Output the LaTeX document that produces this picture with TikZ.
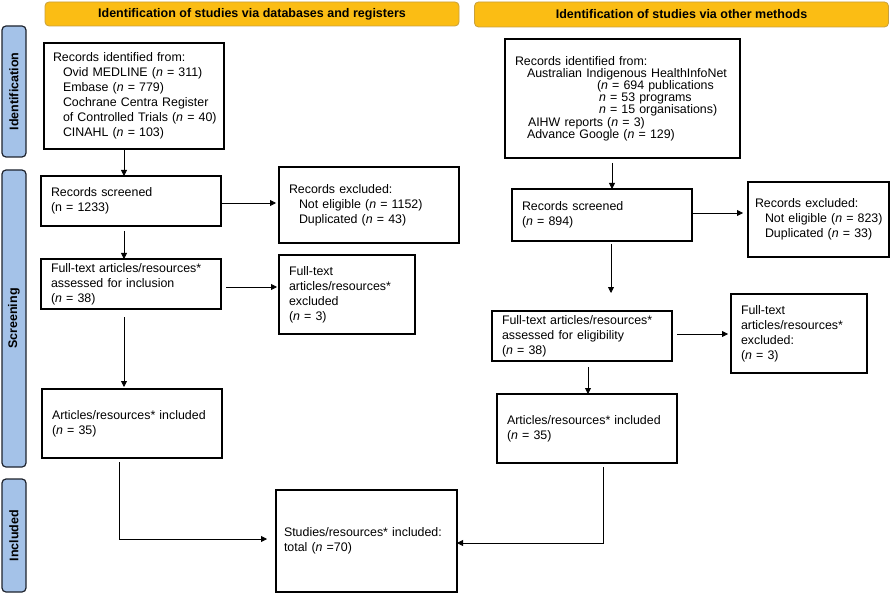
\documentclass[tikz,border=0pt]{standalone}
\usepackage{fontspec}
\setmainfont{Liberation Sans}
\usetikzlibrary{arrows.meta,calc}
\definecolor{hdrfill}{RGB}{251,189,20}
\definecolor{hdrdraw}{RGB}{200,160,60}
\definecolor{sidefill}{RGB}{164,194,232}
\definecolor{sidedraw}{RGB}{30,35,45}
\begin{document}
\begin{tikzpicture}[x=1pt,y=-1pt,
  box/.style={draw=black, line width=1.4pt, fill=white, inner xsep=10pt, inner ysep=0pt,
    outer sep=0pt, align=left, font=\fontsize{12.4}{15}\selectfont},
  hdr/.style={draw=hdrdraw, line width=0.8pt, fill=hdrfill, rounded corners=4pt,
    font=\fontsize{12.5}{14}\selectfont\bfseries, inner sep=0pt, outer sep=0pt},
  side/.style={draw=sidedraw, line width=1.2pt, fill=sidefill, rounded corners=4pt,
    font=\fontsize{12.5}{14}\selectfont\bfseries, inner sep=0pt, outer sep=0pt},
  arr/.style={-{Triangle[length=6pt,width=6pt]}, line width=0.8pt, draw=black}]
\useasboundingbox (0,0) rectangle (890,593);
\newcommand{\nn}{\textit{n}}
% headers
\node[hdr, minimum width=414pt, minimum height=24pt] (hdrL) at (252,14) {Identification of studies via databases and registers};
\node[hdr, minimum width=414pt, minimum height=25pt] (hdrR) at (681.5,14.5) {Identification of studies via other methods};
% side labels
\node[side, minimum width=131pt, minimum height=24pt, rotate=90] (sideI) at (14,91.5) {Identification};
\node[side, minimum width=297pt, minimum height=24pt, rotate=90] (sideS) at (14,318.5) {Screening};
\node[side, minimum width=113pt, minimum height=24pt, rotate=90] (sideN) at (14,535.5) {Included};
% left column
\node[box, minimum width=180pt, minimum height=106pt, text width=162pt, inner xsep=9pt] (a1) at (134,96)
 {Records identified from:\\
  \hspace*{10pt}Ovid MEDLINE (\nn{} = 311)\\
  \hspace*{10pt}Embase (\nn{} = 779)\\
  \hspace*{10pt}Cochrane Centra Register\\
  \mbox{\hspace*{10pt}of Controlled Trials (\nn{} = 40)}\\
  \hspace*{10pt}CINAHL (\nn{} = 103)};
\node[box, minimum width=180pt, minimum height=50pt, text width=160pt] (a2) at (131,201)
 {Records screened\\(n = 1233)};
\node[box, minimum width=180pt, minimum height=76pt, text width=160pt] (a3) at (369,205)
 {Records excluded:\\
  \mbox{\hspace*{10pt}Not eligible (\nn{} = 1152)}\\
  \hspace*{10pt}Duplicated (\nn{} = 43)\\[6pt]};
\node[box, minimum width=180pt, minimum height=50pt, text width=160pt] (a4) at (131,284)
 {\mbox{Full-text articles/resources*}\\assessed for inclusion\\(\nn{} = 38)};
\node[box, minimum width=136pt, minimum height=79pt, text width=116pt] (a5) at (347,294.5)
 {Full-text\\\mbox{articles/resources*}\\excluded\\(\nn{} = 3)};
\node[box, minimum width=180pt, minimum height=69pt, text width=160pt] (a6) at (132,423.5)
 {\mbox{Articles/resources* included}\\(\nn{} = 35)};
\node[box, minimum width=181pt, minimum height=102pt, text width=165pt, inner xsep=8pt] (c) at (366.5,541)
 {\mbox{Studies/resources* included:}\\total (\nn{} =70)};
% right column
\node[box, minimum width=235pt, minimum height=119pt, text width=215pt] (b1) at (622.5,98.5)
 {\fontsize{12.4}{12.2}\selectfont Records identified from:\\
  \mbox{\hspace*{12pt}Australian Indigenous HealthInfoNet}\\
  \mbox{\hspace*{82pt}(\nn{} = 694 publications}\\
  \mbox{\hspace*{84pt}\nn{} = 53 programs}\\
  \mbox{\hspace*{84pt}\nn{} = 15 organisations)}\\
  \hspace*{13pt}AIHW reports (\nn{} = 3)\\
  \hspace*{12pt}Advance Google (\nn{} = 129)\\[8pt]};
\node[box, minimum width=180pt, minimum height=52pt, text width=160pt] (b2) at (602,215)
 {Records screened\\(\nn{} = 894)};
\node[box, minimum width=141pt, minimum height=75pt, text width=127pt, inner xsep=7pt] (b3) at (818.5,219.5)
 {Records excluded:\\
  \mbox{\hspace*{10pt}Not eligible (\nn{} = 823)}\\
  \mbox{\hspace*{10pt}Duplicated (\nn{} = 33)}};
\node[box, minimum width=180pt, minimum height=50pt, text width=160pt] (b4) at (582,336)
 {\mbox{Full-text articles/resources*}\\assessed for eligibility\\(\nn{} = 38)};
\node[box, minimum width=136pt, minimum height=79pt, text width=116pt] (b5) at (799,333.5)
 {Full-text\\\mbox{articles/resources*}\\excluded:\\(\nn{} = 3)\\[4pt]};
\node[box, minimum width=180pt, minimum height=69pt, text width=160pt] (b6) at (587,428.5)
 {\mbox{Articles/resources* included}\\(\nn{} = 35)};
% helper coordinates
\coordinate (xA) at (124,0);
\coordinate (hA) at (0,203);
\coordinate (hB) at (0,287);
\coordinate (hC) at (0,213);
\coordinate (hD) at (0,334);
\coordinate (jL) at (119,539);
\coordinate (jR) at (603,543);
\coordinate (vB1) at (612,0);
\coordinate (vB2) at (611,0);
\coordinate (vB3) at (588,0);
% connectors left
\draw[arr] (a1.south -| xA) -- (a2.north -| xA);
\draw[arr, shorten <=5pt] (a2.south -| xA) -- (a4.north -| xA);
\draw[arr, shorten <=8pt, shorten >=2pt] (a4.south -| xA) -- (a6.north -| xA);
\draw[arr, shorten >=3pt] (a2.east |- hA) -- (a3.west |- hA);
\draw[arr, shorten <=5pt, shorten >=2pt] (a4.east |- hB) -- (a5.west |- hB);
\draw[arr, shorten <=4pt, shorten >=9pt] (a6.south -| jL) -- (jL) -- (c.west |- jL);
% connectors right
\draw[arr, shorten <=5pt] (b1.south -| vB1) -- (b2.north -| vB1);
\draw[arr, shorten <=3pt, shorten >=18pt] (b2.south -| vB2) -- (b4.north -| vB2);
\draw[arr, shorten <=6pt] (b4.south -| vB3) -- (b6.north -| vB3);
\draw[arr, shorten >=5pt] (b2.east |- hC) -- (b3.west |- hC);
\draw[arr, shorten <=5pt, shorten >=3pt] (b4.east |- hD) -- (b5.west |- hD);
\draw[arr, shorten <=4pt] (b6.south -| jR) -- (jR) -- (c.east |- jR);
\end{tikzpicture}
\end{document}
